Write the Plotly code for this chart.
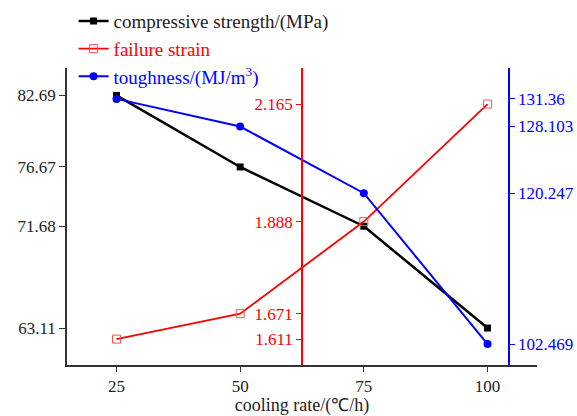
import plotly.graph_objects as go

cooling_rate = [25, 50, 75, 100]
compressive_strength = [82.69, 76.67, 71.68, 63.11]
failure_strain = [1.611, 1.671, 1.888, 2.165]
toughness = [131.36, 128.103, 120.247, 102.469]

x_ticks = [25, 50, 75, 100]
cs_ticks = [63.11, 71.68, 76.67, 82.69]
cs_ticktext = ["63.11", "71.68", "76.67", "82.69"]
fs_ticks = [1.611, 1.671, 1.888, 2.165]
fs_ticktext = ["1.611", "1.671", "1.888", "2.165"]
tg_ticks = [102.469, 120.247, 128.103, 131.36]
tg_ticktext = ["102.469", "120.247", "128.103", "131.36"]

FONT = "Liberation Serif"
AX = "#333333"

fig = go.Figure()
fig.add_trace(go.Scatter(
    x=cooling_rate, y=compressive_strength, mode="lines+markers",
    name="compressive strength/(MPa)",
    line=dict(color="black", width=2.5),
    marker=dict(symbol="square", size=7, color="black"),
    yaxis="y"))
fig.add_trace(go.Scatter(
    x=cooling_rate, y=failure_strain, mode="lines+markers",
    name="<span style='color:red'>failure strain</span>",
    line=dict(color="red", width=1.8),
    marker=dict(symbol="square-open", size=8, color="#ff5050", line=dict(width=1)),
    yaxis="y2"))
fig.add_trace(go.Scatter(
    x=cooling_rate, y=toughness, mode="lines+markers",
    name="<span style='color:blue'>toughness/(MJ/m<sup>3</sup>)</span>",
    line=dict(color="blue", width=2),
    marker=dict(symbol="circle", size=8, color="blue"),
    yaxis="y3"))

fig.update_layout(
    width=577, height=416,
    margin=dict(l=67, r=40, t=68, b=51, autoexpand=False),
    paper_bgcolor="white", plot_bgcolor="white",
    font=dict(family=FONT, size=17, color="#222222"),
    showlegend=True,
    legend=dict(x=0.014, y=1.222, xanchor="left", yanchor="top",
                bgcolor="rgba(0,0,0,0)", font=dict(size=19, family=FONT),
                tracegroupgap=0),
    xaxis=dict(range=[15, 110], tickvals=x_ticks, ticktext=[str(v) for v in x_ticks],
               showline=True, linecolor=AX, linewidth=1.5, ticks="outside",
               ticklen=5, tickcolor=AX, showgrid=False, zeroline=False,
               tickfont=dict(family=FONT, size=17),
               title=dict(text="cooling rate/(℃/h)", font=dict(size=18, family=FONT), standoff=3)),
    yaxis=dict(range=[60, 85], tickvals=cs_ticks, ticktext=cs_ticktext,
               showline=True, linecolor=AX, linewidth=1.5, ticks="outside",
               ticklen=6, tickcolor=AX, showgrid=False, zeroline=False,
               tickfont=dict(family=FONT, size=17)),
    yaxis2=dict(range=[1.55, 2.25], tickvals=fs_ticks, ticktext=fs_ticktext,
                overlaying="y", anchor="free", position=0.5, side="left",
                showline=True, linecolor="red", linewidth=1.5, ticks="outside",
                ticklen=5, tickcolor="red", tickfont=dict(color="red", family=FONT, size=17),
                showgrid=False, zeroline=False),
    yaxis4=dict(range=[1.55, 2.25], tickvals=fs_ticks,
                overlaying="y", anchor="free", position=0.5, side="left",
                showline=False, ticks="inside", ticklen=5, tickcolor="red",
                showticklabels=False, showgrid=False, zeroline=False),
    yaxis3=dict(range=[100, 135], tickvals=tg_ticks, ticktext=tg_ticktext,
                overlaying="y", anchor="free", position=0.94, side="right",
                showline=True, linecolor="blue", linewidth=1.5, ticks="outside",
                ticklen=5, tickcolor="blue", tickfont=dict(color="blue", family=FONT, size=17),
                showgrid=False, zeroline=False),
)

fig.write_html("out.html")
